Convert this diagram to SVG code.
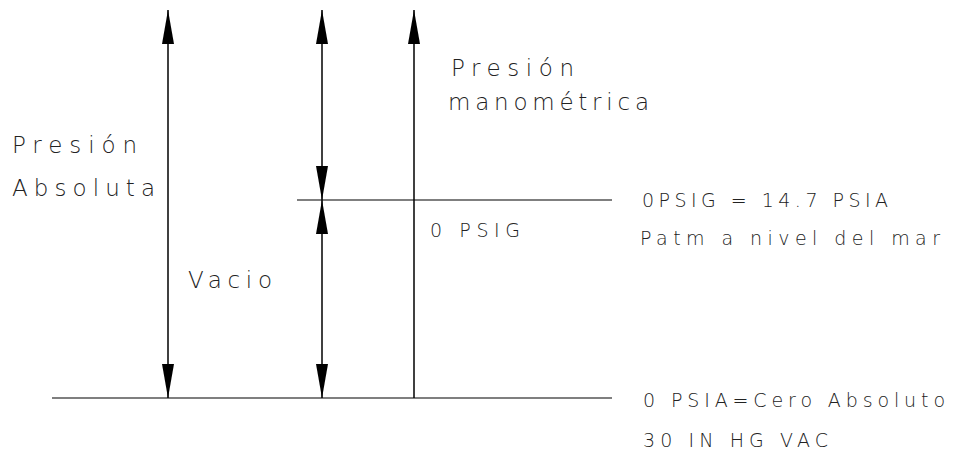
<svg xmlns="http://www.w3.org/2000/svg" width="959" height="457" viewBox="0 0 959 457">
  <style>
    .dim { stroke: #000; stroke-width: 1.5; fill: none; }
    .ref { stroke: #555; stroke-width: 1.5; fill: none; }
    .both { marker-start: url(#head); marker-end: url(#head); }
    .up { marker-start: url(#head); }
    text { font-family: "DejaVu Sans", "Liberation Sans", sans-serif; font-weight: 300; fill: #222; }
    .big { font-size: 23px; }
    .small { font-size: 19px; }
  </style>
  <defs>
    <marker id="head" viewBox="0 0 34 12" refX="34" refY="6" markerWidth="34" markerHeight="12" markerUnits="userSpaceOnUse" orient="auto-start-reverse">
      <path d="M0,0 L34,6 L0,12 Z" fill="#000"/>
    </marker>
  </defs>
  <rect width="959" height="457" fill="#fff"/>

  <!-- reference levels and dimension arrows -->
  <g id="connectors">
    <line class="ref" x1="297" y1="200" x2="612" y2="200"/>
    <line class="ref" x1="52" y1="398" x2="612" y2="398"/>
    <line class="dim both" x1="168" y1="10" x2="168" y2="398"/>
    <line class="dim both" x1="322" y1="10" x2="322" y2="200"/>
    <line class="dim both" x1="322" y1="200" x2="322" y2="398"/>
    <line class="dim up" x1="414" y1="10" x2="414" y2="398"/>
  </g>

  <g id="absolute-label">
    <text class="big" x="12" y="153" textLength="125" lengthAdjust="spacing">Presión</text>
    <text class="big" x="12" y="196" textLength="143" lengthAdjust="spacing">Absoluta</text>
  </g>
  <g id="gauge-label">
    <text class="big" x="451" y="76" textLength="123" lengthAdjust="spacing">Presión</text>
    <text class="big" x="448" y="110" textLength="201" lengthAdjust="spacing">manométrica</text>
  </g>
  <g id="vacuum-label">
    <text class="big" x="188" y="288" textLength="84" lengthAdjust="spacing">Vacio</text>
  </g>
  <g id="zero-gauge">
    <text class="small" x="430" y="237" textLength="90" lengthAdjust="spacing">0 PSIG</text>
  </g>
  <g id="atmospheric-level">
    <text class="small" x="642" y="207" textLength="246" lengthAdjust="spacing">0PSIG = 14.7 PSIA</text>
    <text class="small" x="640" y="245" textLength="300" lengthAdjust="spacing">Patm a nivel del mar</text>
  </g>
  <g id="absolute-zero-level">
    <text class="small" x="643" y="407" textLength="302" lengthAdjust="spacing">0 PSIA=Cero Absoluto</text>
    <text class="small" x="643" y="447" textLength="185" lengthAdjust="spacing">30 IN HG VAC</text>
  </g>
</svg>
